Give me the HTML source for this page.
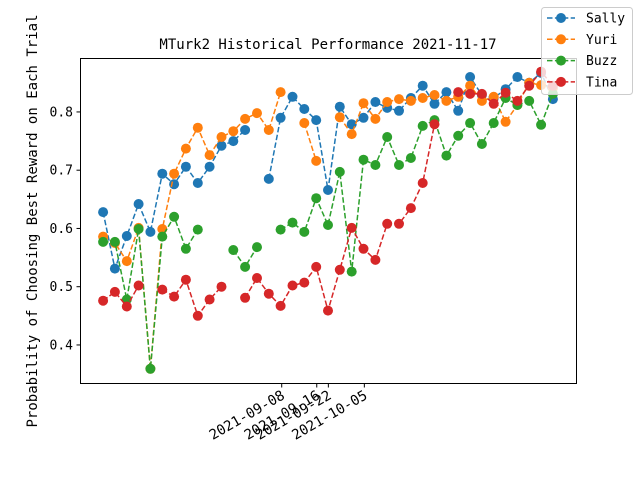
<!DOCTYPE html>
<html><head><meta charset="utf-8"><style>
body{margin:0;background:#fff;}
svg{font-family:"DejaVu Sans Mono","Liberation Mono",monospace;}
</style></head><body>
<svg id="chart" width="640" height="480" viewBox="0 0 640 480" xmlns="http://www.w3.org/2000/svg">
<rect width="640" height="480" fill="#fff"/>
<text x="328" y="49" font-size="14" text-anchor="middle">MTurk2 Historical Performance 2021-11-17</text>
<text transform="translate(37,221) rotate(-90)" font-size="14" text-anchor="middle">Probability of Choosing Best Reward on Each Trial</text>
<g id="marks"></g>
<rect x="80.5" y="58.5" width="496" height="325" fill="none" stroke="#000" stroke-width="1"/>
<g id="axes"></g>
<g id="legend"></g>
</svg>
<script>
const sally=[0.628,0.531,0.587,0.642,0.594,0.694,0.676,0.706,0.678,0.706,0.742,0.750,0.769,null,0.685,0.790,0.826,0.805,0.786,0.666,0.809,0.779,0.790,0.817,0.807,0.802,0.824,0.845,0.814,0.834,0.802,0.860,0.829,0.824,0.839,0.860,0.850,0.867,0.822];
const yuri=[0.586,0.575,0.544,0.601,0.359,0.599,0.694,0.737,0.773,0.726,0.757,0.767,0.788,0.798,0.769,0.834,null,0.781,0.716,null,0.791,0.762,0.815,0.788,0.817,0.822,0.819,0.824,0.829,0.819,0.826,0.845,0.819,0.826,0.783,0.812,0.850,0.846,0.841];
const buzz=[0.577,0.577,0.478,0.599,0.359,0.586,0.620,0.565,0.598,null,null,0.563,0.534,0.568,null,0.598,0.610,0.594,0.652,0.606,0.697,0.526,0.718,0.709,0.757,0.709,0.721,0.776,0.786,0.725,0.759,0.781,0.745,0.781,0.824,0.812,0.819,0.778,0.831];
const tina=[0.476,0.491,0.466,0.502,null,0.495,0.483,0.512,0.450,0.478,0.500,null,0.481,0.515,0.488,0.467,0.502,0.507,0.534,0.459,0.529,0.601,0.565,0.546,0.608,0.608,0.635,0.678,0.779,null,0.834,0.831,0.831,0.814,0.833,0.819,0.845,0.869,0.845];
const xTickPos=[15.09,18.05,19.03,22.07];
const xTickLabels=["2021-09-08","2021-09-16","2021-09-22","2021-10-05"];
const yTicks=[0.4,0.5,0.6,0.7,0.8];
const seriesNames=["Sally","Yuri","Buzz","Tina"];
const colors=["#1f77b4","#ff7f0e","#2ca02c","#d62728"];

const X0=80,X1=576,Y0=383,Y1=58,xmin=-1.95,xmax=39.95,ymin=0.3347,ymax=0.8926;
function xs(i){return X0+(i-xmin)/(xmax-xmin)*(X1-X0);}
function ys(v){return Y0-(v-ymin)/(ymax-ymin)*(Y0-Y1);}
const NS="http://www.w3.org/2000/svg";
function mk(tag,attrs,parent){const e=document.createElementNS(NS,tag);for(const k in attrs)e.setAttribute(k,attrs[k]);parent.appendChild(e);return e;}
const marks=document.getElementById('marks');
[sally,yuri,buzz,tina].forEach((data,s)=>{
  const g=mk('g',{},marks);
  
  
  let segs=[],cur=[];
  data.forEach((v,i)=>{if(v===null){if(cur.length)segs.push(cur);cur=[];}else cur.push([xs(i),ys(v)]);});
  if(cur.length)segs.push(cur);
  segs.forEach(sg=>{if(sg.length>1){const p=mk('polyline',{points:sg.map(q=>q[0].toFixed(1)+','+q[1].toFixed(1)).join(' '),fill:'none',stroke:colors[s],'stroke-width':1.5,'stroke-dasharray':'5.5,2.4'},g);
    
    }});
  data.forEach((v,i)=>{if(v===null)return;
    const c=mk('circle',{cx:xs(i).toFixed(1),cy:ys(v).toFixed(1),r:5,fill:colors[s]},g);
    
    });
});
const axes=document.getElementById('axes');
yTicks.forEach(t=>{const y=ys(t);
  const l=mk('line',{x1:76.5,x2:80.5,y1:y,y2:y,stroke:'#000'},axes);
  
  
  const tx=mk('text',{x:73,y:y+4.5,'font-size':13,'text-anchor':'end'},axes);
  tx.textContent=t.toFixed(1);
  
  });
xTickPos.forEach((p,k)=>{const x=xs(p);
  const l=mk('line',{x1:x,x2:x,y1:383.5,y2:387.5,stroke:'#000'},axes);
  
  
  const tx=mk('text',{x:0,y:0,'font-size':14,'text-anchor':'end',transform:'translate('+(x+4)+',398) rotate(-30)'},axes);
  tx.textContent=xTickLabels[k];
  
  });
const lg=document.getElementById('legend');
mk('rect',{x:541.5,y:7.5,width:91,height:87,rx:3,fill:'#fff','fill-opacity':0.8,stroke:'#ccc'},lg);
seriesNames.forEach((n,s)=>{const y=18+s*21.3;
  const e=mk('g',{},lg);
  
  
  mk('line',{x1:547,x2:575,y1:y,y2:y,stroke:colors[s],'stroke-width':1.5,'stroke-dasharray':'5.5,2.4'},e);
  mk('circle',{cx:561,cy:y,r:5,fill:colors[s]},e);
  const t=mk('text',{x:586,y:y+4.5,'font-size':13},e);t.textContent=n;});
</script>
</body></html>
